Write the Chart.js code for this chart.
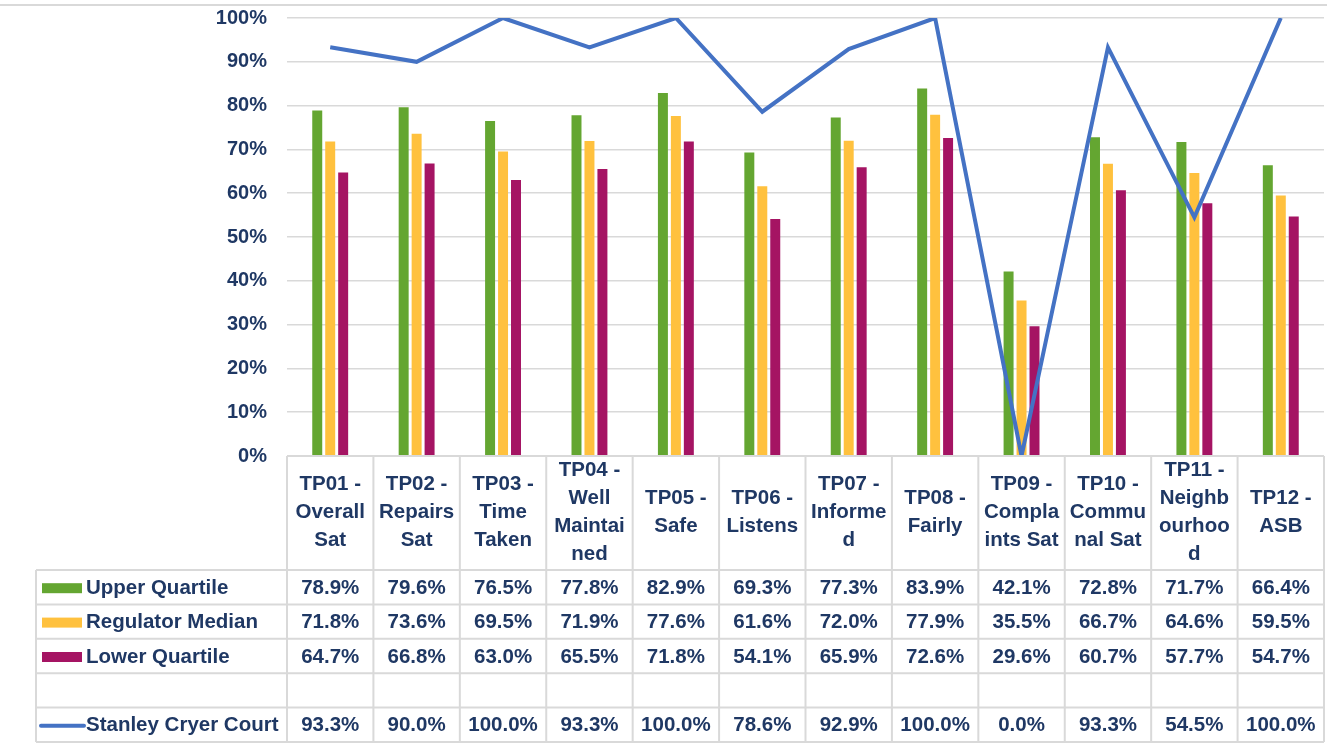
<!DOCTYPE html>
<html>
<head>
<meta charset="utf-8">
<script src="https://cdn.jsdelivr.net/npm/chart.js@4/dist/chart.umd.min.js"></script>
<style>
  body { margin: 0; background: #fff; }
  #wrap { width: 1327px; height: 746px; position: relative; }
</style>
</head>
<body>
<div id="wrap"><canvas id="tpChart"></canvas></div>
<script>
// =======================================
// DATA
// =======================================
const categories = [
  ["TP01 -", "Overall", "Sat"],
  ["TP02 -", "Repairs", "Sat"],
  ["TP03 -", "Time", "Taken"],
  ["TP04 -", "Well", "Maintai", "ned"],
  ["TP05 -", "Safe"],
  ["TP06 -", "Listens"],
  ["TP07 -", "Informe", "d"],
  ["TP08 -", "Fairly"],
  ["TP09 -", "Compla", "ints Sat"],
  ["TP10 -", "Commu", "nal Sat"],
  ["TP11 -", "Neighb", "ourhoo", "d"],
  ["TP12 -", "ASB"],
];
const upperQuartile = [78.9, 79.6, 76.5, 77.8, 82.9, 69.3, 77.3, 83.9, 42.1, 72.8, 71.7, 66.4];
const regulatorMedian = [71.8, 73.6, 69.5, 71.9, 77.6, 61.6, 72.0, 77.9, 35.5, 66.7, 64.6, 59.5];
const lowerQuartile = [64.7, 66.8, 63.0, 65.5, 71.8, 54.1, 65.9, 72.6, 29.6, 60.7, 57.7, 54.7];
const stanleyCryer = [93.3, 90.0, 100.0, 93.3, 100.0, 78.6, 92.9, 100.0, 0.0, 93.3, 54.5, 100.0];
const yTicks = [0, 10, 20, 30, 40, 50, 60, 70, 80, 90, 100];

// =======================================
// STYLE
// =======================================
const navy = "#1F3864";
const gridGray = "#D9D9D9";
const colGreen = "#64A631";
const colYellow = "#FFC13E";
const colMaroon = "#A51463";
const colBlue = "#4472C4";
const fontFamily = "'Liberation Sans', Arial, sans-serif";

// =======================================
// DATA TABLE UNDER THE CHART
// =======================================
const tableRows = [
  { label: "Upper Quartile", values: upperQuartile, color: colGreen, type: "bar" },
  { label: "Regulator Median", values: regulatorMedian, color: colYellow, type: "bar" },
  { label: "Lower Quartile", values: lowerQuartile, color: colMaroon, type: "bar" },
  { label: "", values: null },
  { label: "Stanley Cryer Court", values: stanleyCryer, color: colBlue, type: "line" },
];

const dataTablePlugin = {
  id: "dataTable",
  afterDraw(chart) {
    const { ctx, chartArea, scales } = chart;
    const xs = scales.x;
    const n = categories.length;
    const colW = (chartArea.right - chartArea.left) / n;
    const tableLeft = 36;
    const headTop = chartArea.bottom;
    const headBottom = 570;
    const rowH = 34.4;
    const tableBottom = headBottom + rowH * tableRows.length;

    ctx.save();

    // frame line on top
    ctx.strokeStyle = gridGray;
    ctx.lineWidth = 2;
    ctx.beginPath();
    ctx.moveTo(0, 5);
    ctx.lineTo(chart.width, 5);
    ctx.stroke();

    // grid
    ctx.beginPath();
    ctx.moveTo(chartArea.left, headTop);
    ctx.lineTo(chartArea.right, headTop);
    for (let r = 0; r <= tableRows.length; r++) {
      const y = headBottom + r * rowH;
      ctx.moveTo(tableLeft, y);
      ctx.lineTo(chartArea.right, y);
    }
    ctx.moveTo(tableLeft, headBottom);
    ctx.lineTo(tableLeft, tableBottom);
    for (let i = 0; i <= n; i++) {
      const x = i < n ? xs.getPixelForValue(i) - colW / 2 : xs.getPixelForValue(n - 1) + colW / 2;
      ctx.moveTo(x, headTop);
      ctx.lineTo(x, tableBottom);
    }
    ctx.stroke();

    // header labels
    ctx.fillStyle = navy;
    ctx.font = `bold 20.5px ${fontFamily}`;
    ctx.textAlign = "center";
    ctx.textBaseline = "middle";
    const lh = 28;
    const headMid = (headTop + headBottom) / 2 - 1;
    categories.forEach((lines, i) => {
      const cx = xs.getPixelForValue(i);
      const y0 = headMid - ((lines.length - 1) * lh) / 2;
      lines.forEach((t, k) => ctx.fillText(t, cx, y0 + k * lh));
    });

    // rows
    tableRows.forEach((row, r) => {
      const cy = headBottom + r * rowH + rowH / 2 + 1;
      if (!row.values) return;
      if (row.type === "bar") {
        ctx.fillStyle = row.color;
        ctx.fillRect(42, cy - 5, 40, 10);
      } else {
        ctx.strokeStyle = row.color;
        ctx.lineWidth = 4;
        ctx.lineCap = "round";
        ctx.beginPath();
        ctx.moveTo(41, cy);
        ctx.lineTo(84, cy);
        ctx.stroke();
      }
      ctx.fillStyle = navy;
      ctx.textAlign = "left";
      ctx.fillText(row.label, 86, cy);
      ctx.textAlign = "center";
      row.values.forEach((v, i) => {
        ctx.fillText(v.toFixed(1) + "%", xs.getPixelForValue(i), cy);
      });
    });

    ctx.restore();
  },
};

// =======================================
// CHART
// =======================================
function initChart() {
  const canvas = document.getElementById("tpChart");
  const barDefaults = {
    type: "bar",
    categoryPercentage: 0.45,
    barPercentage: 0.77,
    order: 1,
  };

  return new Chart(canvas.getContext("2d"), {
    data: {
      labels: categories.map((c) => c.join(" ")),
      datasets: [
        { ...barDefaults, label: "Upper Quartile", data: upperQuartile, backgroundColor: colGreen },
        { ...barDefaults, label: "Regulator Median", data: regulatorMedian, backgroundColor: colYellow },
        { ...barDefaults, label: "Lower Quartile", data: lowerQuartile, backgroundColor: colMaroon },
        {
          type: "line",
          label: "Stanley Cryer Court",
          data: stanleyCryer,
          borderColor: colBlue,
          borderWidth: 4,
          pointRadius: 0,
          tension: 0,
          order: 0,
        },
      ],
    },
    options: {
      responsive: true,
      maintainAspectRatio: false,
      animation: false,
      layout: { padding: { top: 18, right: 3, bottom: 290, left: 0 } },
      plugins: { legend: { display: false }, tooltip: { enabled: false } },
      scales: {
        x: { display: false },
        y: {
          min: 0,
          max: 100,
          afterBuildTicks: (s) => { s.ticks = yTicks.map((v) => ({ value: v })); },
          afterFit: (s) => {
            s.width = 287;
            // keep the plot top where the reference has it
            s.paddingTop = 0;
            s.paddingBottom = 0;
          },
          ticks: {
            callback: (v) => v + "%",
            color: navy,
            font: { family: fontFamily, size: 20, weight: "bold" },
            padding: 20,
          },
          grid: { color: gridGray, lineWidth: 1.5, drawTicks: false },
          border: { display: false },
        },
      },
    },
    plugins: [dataTablePlugin],
  });
}

document.addEventListener("DOMContentLoaded", () => {
  initChart();
});
</script>
</body>
</html>
